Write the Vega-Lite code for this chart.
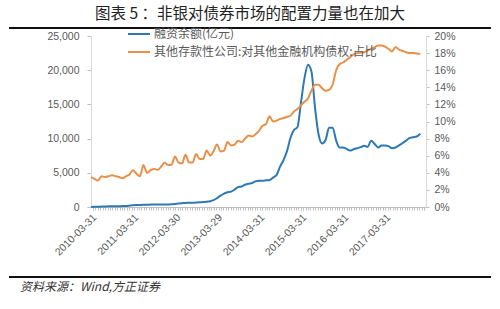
{
  "$schema": "https://vega.github.io/schema/vega-lite/v6.json",
  "padding": {"left": 8, "right": 10, "top": 6, "bottom": 4},
  "spacing": 2,
  "title": {"text": "图表 5 ：非银对债券市场的配置力量也在加大", "anchor": "middle", "frame": "bounds", "fontSize": 15.5, "fontWeight": "normal", "color": "#222222", "offset": 0, "font": "Noto Sans CJK SC"},
  "config": {
    "view": {"stroke": null},
    "font": "Noto Sans CJK SC",
    "axis": {"labelFont": "Liberation Sans", "labelFontSize": 10.5, "labelColor": "#595959", "grid": false, "title": null, "domainColor": "#bfbfbf", "tickColor": "#bfbfbf"}
  },
  "datasets": {
    "main": [
      {"d": "2010-03-31", "a": 0, "b": 3.5},
      {"d": "2010-04-30", "a": 20, "b": 3.3},
      {"d": "2010-05-31", "a": 40, "b": 3.1},
      {"d": "2010-06-30", "a": 60, "b": 3.6},
      {"d": "2010-07-31", "a": 80, "b": 3.5},
      {"d": "2010-08-31", "a": 100, "b": 3.6},
      {"d": "2010-09-30", "a": 110, "b": 3.7},
      {"d": "2010-10-31", "a": 120, "b": 3.6},
      {"d": "2010-11-30", "a": 125, "b": 3.5},
      {"d": "2010-12-31", "a": 130, "b": 3.35},
      {"d": "2011-01-31", "a": 150, "b": 3.6},
      {"d": "2011-02-28", "a": 200, "b": 3.8},
      {"d": "2011-03-31", "a": 250, "b": 4.3},
      {"d": "2011-04-30", "a": 280, "b": 3.9},
      {"d": "2011-05-31", "a": 300, "b": 3.6},
      {"d": "2011-06-30", "a": 320, "b": 4.9},
      {"d": "2011-07-31", "a": 340, "b": 4.0},
      {"d": "2011-08-31", "a": 350, "b": 4.3},
      {"d": "2011-09-30", "a": 360, "b": 4.45},
      {"d": "2011-10-31", "a": 380, "b": 4.35},
      {"d": "2011-11-30", "a": 380, "b": 4.7},
      {"d": "2011-12-31", "a": 370, "b": 5.2},
      {"d": "2012-01-31", "a": 380, "b": 4.9},
      {"d": "2012-02-29", "a": 400, "b": 4.95},
      {"d": "2012-03-31", "a": 450, "b": 5.9},
      {"d": "2012-04-30", "a": 500, "b": 5.2},
      {"d": "2012-05-31", "a": 550, "b": 5.1},
      {"d": "2012-06-30", "a": 600, "b": 6.1},
      {"d": "2012-07-31", "a": 610, "b": 5.2},
      {"d": "2012-08-31", "a": 620, "b": 5.2},
      {"d": "2012-09-30", "a": 650, "b": 6.2},
      {"d": "2012-10-31", "a": 680, "b": 5.6},
      {"d": "2012-11-30", "a": 720, "b": 5.6},
      {"d": "2012-12-31", "a": 780, "b": 6.6},
      {"d": "2013-01-31", "a": 850, "b": 6.0},
      {"d": "2013-02-28", "a": 1000, "b": 6.5},
      {"d": "2013-03-31", "a": 1300, "b": 7.3},
      {"d": "2013-04-30", "a": 1650, "b": 6.5},
      {"d": "2013-05-31", "a": 1950, "b": 6.6},
      {"d": "2013-06-30", "a": 2150, "b": 7.6},
      {"d": "2013-07-31", "a": 2250, "b": 7.2},
      {"d": "2013-08-31", "a": 2550, "b": 7.3},
      {"d": "2013-09-30", "a": 2900, "b": 7.75},
      {"d": "2013-10-31", "a": 3000, "b": 7.6},
      {"d": "2013-11-30", "a": 3250, "b": 8.0},
      {"d": "2013-12-31", "a": 3400, "b": 8.35},
      {"d": "2014-01-31", "a": 3500, "b": 8.25},
      {"d": "2014-02-28", "a": 3750, "b": 8.5},
      {"d": "2014-03-31", "a": 3850, "b": 8.9},
      {"d": "2014-04-30", "a": 3850, "b": 9.5},
      {"d": "2014-05-31", "a": 3900, "b": 9.7},
      {"d": "2014-06-30", "a": 3950, "b": 10.6},
      {"d": "2014-07-31", "a": 4300, "b": 10.0},
      {"d": "2014-08-31", "a": 4700, "b": 10.1},
      {"d": "2014-09-30", "a": 5900, "b": 10.3},
      {"d": "2014-10-31", "a": 6900, "b": 10.4},
      {"d": "2014-11-30", "a": 8200, "b": 10.55},
      {"d": "2014-12-31", "a": 10200, "b": 10.7},
      {"d": "2015-01-31", "a": 11300, "b": 11.2},
      {"d": "2015-02-28", "a": 11650, "b": 11.45},
      {"d": "2015-03-31", "a": 15300, "b": 11.9},
      {"d": "2015-04-30", "a": 18800, "b": 12.3},
      {"d": "2015-05-31", "a": 20800, "b": 12.7},
      {"d": "2015-06-30", "a": 19800, "b": 13.6},
      {"d": "2015-07-31", "a": 14500, "b": 14.3},
      {"d": "2015-08-31", "a": 10600, "b": 14.3},
      {"d": "2015-09-30", "a": 9300, "b": 13.9},
      {"d": "2015-10-31", "a": 9800, "b": 13.6},
      {"d": "2015-11-30", "a": 11600, "b": 13.7},
      {"d": "2015-12-31", "a": 11600, "b": 14.3},
      {"d": "2016-01-31", "a": 9700, "b": 16.0},
      {"d": "2016-02-29", "a": 8700, "b": 16.7},
      {"d": "2016-03-31", "a": 8700, "b": 16.9},
      {"d": "2016-04-30", "a": 8500, "b": 17.2},
      {"d": "2016-05-31", "a": 8250, "b": 17.5},
      {"d": "2016-06-30", "a": 8450, "b": 17.85},
      {"d": "2016-07-31", "a": 8600, "b": 18.0},
      {"d": "2016-08-31", "a": 8750, "b": 18.05},
      {"d": "2016-09-30", "a": 8950, "b": 18.1},
      {"d": "2016-10-31", "a": 8800, "b": 18.3},
      {"d": "2016-11-30", "a": 9700, "b": 18.5},
      {"d": "2016-12-31", "a": 9200, "b": 18.7},
      {"d": "2017-01-31", "a": 8700, "b": 18.9},
      {"d": "2017-02-28", "a": 9000, "b": 18.9},
      {"d": "2017-03-31", "a": 9000, "b": 18.75},
      {"d": "2017-04-30", "a": 8900, "b": 18.5},
      {"d": "2017-05-31", "a": 8600, "b": 18.2},
      {"d": "2017-06-30", "a": 8700, "b": 18.7},
      {"d": "2017-07-31", "a": 9000, "b": 18.4},
      {"d": "2017-08-31", "a": 9350, "b": 18.25},
      {"d": "2017-09-30", "a": 9700, "b": 18.1},
      {"d": "2017-10-31", "a": 10100, "b": 18.0},
      {"d": "2017-11-30", "a": 10200, "b": 18.0},
      {"d": "2017-12-31", "a": 10300, "b": 17.95},
      {"d": "2018-01-31", "a": 10700, "b": 17.9}
    ]
  },
  "vconcat": [
    {
      "width": 400,
      "height": 2,
      "data": {"values": [{}]},
      "mark": {"type": "rect", "color": "#111111"},
      "encoding": {
        "x": {"datum": -0.205, "type": "quantitative", "scale": {"domain": [0, 1], "nice": false, "zero": false}, "axis": null},
        "x2": {"datum": 1},
        "y": {"datum": 0, "type": "quantitative", "scale": {"domain": [0, 1], "nice": false, "zero": false}, "axis": null},
        "y2": {"datum": 1}
      }
    },
    {
      "width": 335,
      "height": 171,
      "data": {"name": "main"},
      "layer": [
        {
          "mark": {"type": "line", "strokeWidth": 2, "interpolate": "monotone"},
          "encoding": {
            "x": {
              "field": "d", "type": "temporal",
              "scale": {"type": "utc", "nice": false, "domain": [{"year": 2010, "month": 3, "date": 31, "utc": true}, {"year": 2018, "month": 3, "date": 22, "utc": true}]},
              "axis": {
                "orient": "bottom",
                "values": [
                  {"year": 2010, "month": 3, "date": 31, "utc": true},
                  {"year": 2011, "month": 3, "date": 31, "utc": true},
                  {"year": 2012, "month": 3, "date": 30, "utc": true},
                  {"year": 2013, "month": 3, "date": 29, "utc": true},
                  {"year": 2014, "month": 3, "date": 31, "utc": true},
                  {"year": 2015, "month": 3, "date": 31, "utc": true},
                  {"year": 2016, "month": 3, "date": 31, "utc": true},
                  {"year": 2017, "month": 3, "date": 31, "utc": true}
                ],
                "labelExpr": "utcFormat(datum.value, '%Y-%m-%d')",
                "labelAngle": -45,
                "labelAlign": "right",
                "labelBaseline": "top",
                "labelPadding": 5,
                "labelFlush": false,
                "labelOverlap": false,
                "labelBound": false,
                "ticks": false,
                "domain": false,
                "minExtent": 67
              }
            },
            "y": {
              "field": "a", "type": "quantitative",
              "scale": {"domain": [0, 25000], "nice": false},
              "axis": {"values": [0, 5000, 10000, 15000, 20000, 25000], "format": ",d", "tickSize": 4, "labelPadding": 8, "domainColor": "#d9d9d9", "minExtent": 82}
            },
            "color": {
              "datum": "融资余额(亿元)",
              "type": "nominal",
              "scale": {"domain": ["融资余额(亿元)", "其他存款性公司:对其他金融机构债权:占比"], "range": ["#2E78B4", "#E8904A"]},
              "legend": {
                "orient": "none", "legendX": 36, "legendY": -5, "title": null,
                "symbolType": "stroke", "symbolSize": 484, "symbolStrokeWidth": 2,
                "labelFont": "Noto Sans CJK SC", "labelFontSize": 12, "labelColor": "#595959",
                "labelLimit": 400, "labelOffset": 3, "rowPadding": -10, "padding": 0
              }
            }
          }
        },
        {
          "mark": {"type": "line", "strokeWidth": 2, "interpolate": "monotone"},
          "encoding": {
            "x": {
              "field": "d", "type": "temporal",
              "scale": {"type": "utc", "nice": false, "domain": [{"year": 2010, "month": 3, "date": 31, "utc": true}, {"year": 2018, "month": 3, "date": 22, "utc": true}]},
              "axis": {"orient": "bottom", "labels": false, "tickCount": {"interval": "week", "step": 3}, "tickSize": 3, "domain": true}
            },
            "y": {
              "field": "b", "type": "quantitative",
              "scale": {"domain": [0, 20], "nice": false},
              "axis": {"orient": "right", "values": [0, 2, 4, 6, 8, 10, 12, 14, 16, 18, 20], "labelExpr": "datum.value + '%'", "tickSize": 3, "labelPadding": 5, "domainColor": "#d9d9d9"}
            },
            "color": {"datum": "其他存款性公司:对其他金融机构债权:占比", "type": "nominal"}
          }
        }
      ],
      "resolve": {"scale": {"y": "independent"}, "axis": {"x": "independent"}}
    },
    {
      "width": 400,
      "height": 2,
      "title": {"text": "资料来源：Wind,方正证券", "orient": "bottom", "anchor": "start", "frame": "bounds", "dx": 12, "fontSize": 12, "fontStyle": "italic", "fontWeight": "normal", "color": "#333333", "offset": 4, "font": "Noto Sans CJK SC"},
      "data": {"values": [{}]},
      "mark": {"type": "rule", "strokeWidth": 2, "color": "#111111"},
      "encoding": {
        "x": {"datum": -0.205, "type": "quantitative", "scale": {"domain": [0, 1], "nice": false, "zero": false}, "axis": null},
        "x2": {"datum": 1}
      }
    }
  ]
}
